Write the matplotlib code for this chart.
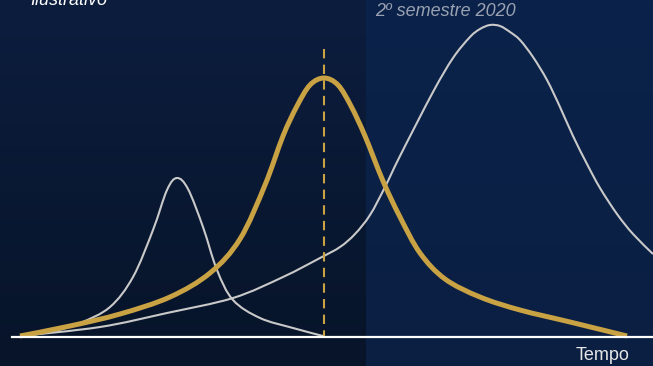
import numpy as np
import matplotlib.pyplot as plt
from matplotlib.path import Path
from matplotlib.patches import PathPatch

plt.rcParams['font.family'] = ['Liberation Sans', 'DejaVu Sans']

# curve samples: time position and height above the baseline
small_x = [20, 50, 80, 110, 133, 153, 167, 177, 188, 203, 217, 233, 260, 293, 323]
small_y = [1, 5, 14, 30, 60, 107, 147, 159, 148, 110, 67, 37, 19, 9, 1]

gold_x = [20, 70, 120, 170, 210, 240, 265, 283, 297, 310, 324, 338, 351, 365,
          383, 400, 420, 445, 480, 520, 570, 627]
gold_y = [1, 11, 23, 40, 64, 98, 152, 201, 231, 252, 259, 252, 231, 201,
          156, 120, 84, 58, 40, 27, 15, 1]

big_x = [20, 100, 167, 233, 283, 320, 340, 355, 370, 385, 400, 433, 453, 470,
         480, 490, 500, 510, 520, 533, 547, 560, 573, 587, 600, 617, 633, 653]
big_y = [1, 10, 24, 39, 60, 79, 90, 103, 122, 150, 181, 245, 279, 300,
         308, 312, 311, 305, 297, 280, 257, 230, 201, 173, 149, 123, 103, 83]

peak_x = 323.5
peak_top = 288


def smooth_path(xs, ys):
    # Catmull-Rom through the samples, drawn as cubic Bezier segments
    pts = np.column_stack([xs, ys]).astype(float)
    ext = np.vstack([pts[0], pts, pts[-1]])
    verts = [pts[0]]
    codes = [Path.MOVETO]
    for i in range(1, len(ext) - 2):
        p0, p1, p2, p3 = ext[i - 1], ext[i], ext[i + 1], ext[i + 2]
        verts += [p1 + (p2 - p0) / 6, p2 - (p3 - p1) / 6, p2]
        codes += [Path.CURVE4] * 3
    return Path(verts, codes)


fig = plt.figure(figsize=(6.53, 3.66), dpi=100)
ax = fig.add_axes([0, 0, 1, 1])
ax.set_xlim(0, 653)
ax.set_ylim(-29, 337)
ax.axis('off')

# two background panels with a soft vertical gradient
grad = np.linspace(0, 1, 256).reshape(-1, 1)
left_top, left_bot = np.array([12, 29, 62]), np.array([7, 20, 41])
right_top, right_bot = np.array([11, 34, 74]), np.array([10, 31, 66])
left_img = (left_top + (left_bot - left_top) * grad[:, :, None]) / 255
right_img = (right_top + (right_bot - right_top) * grad[:, :, None]) / 255
ax.imshow(left_img, extent=[0, 366, -29, 337], aspect='auto', zorder=0)
ax.imshow(right_img, extent=[366, 653, -29, 337], aspect='auto', zorder=0)

for xs, ys in [(big_x, big_y), (small_x, small_y)]:
    ax.add_patch(PathPatch(smooth_path(xs, ys), facecolor='none',
                           edgecolor='#c9c9c9', lw=1.5, zorder=2))
ax.plot([peak_x, peak_x], [peak_top, 0], color='#c9a243', lw=1.5,
        linestyle=(0, (4.5, 3)), zorder=3)
ax.add_patch(PathPatch(smooth_path(gold_x, gold_y), facecolor='none',
                       edgecolor='#c9a243', lw=3.6, zorder=4, capstyle='butt'))

# baseline (time axis)
ax.plot([12, 653], [0, 0], color='white', lw=1.6, zorder=5)

ax.text(30, 332, 'Ilustrativo', color='white', fontsize=13, style='italic',
        va='baseline', ha='left')
ax.text(375, 325, '2º semestre 2020', color='#9aa2b2', fontsize=13,
        style='italic', va='center', ha='left')
ax.text(576, -19, 'Tempo', color='#e6e6e6', fontsize=13, va='center', ha='left')

fig.savefig('out.png', dpi=100)
